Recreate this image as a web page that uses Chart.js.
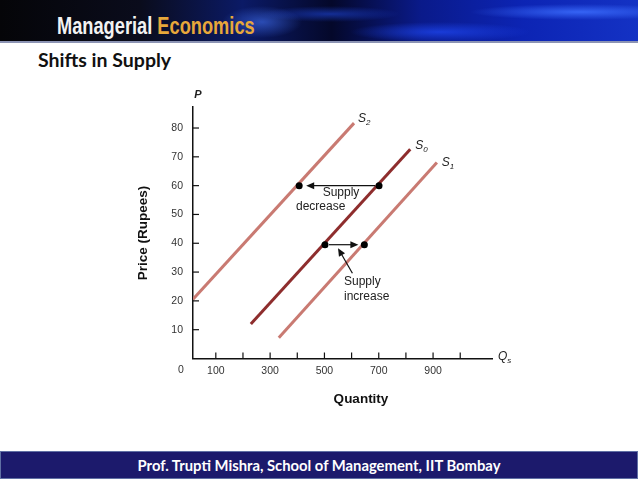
<!DOCTYPE html>
<html>
<head>
<meta charset="utf-8">
<script src="https://cdn.jsdelivr.net/npm/chart.js@4.4.0/dist/chart.umd.min.js"></script>
<style>
  body{margin:0;width:638px;height:479px;overflow:hidden;background:#fff;position:relative;}
  #banner{position:absolute;left:0;top:0;width:638px;height:41px;
    background:
      radial-gradient(ellipse 40px 16px at 262px 22px, rgba(70,120,255,.55), transparent),
      radial-gradient(ellipse 110px 8px at 580px 12px, rgba(60,110,255,.85), transparent),
      radial-gradient(ellipse 90px 10px at 440px 32px, rgba(30,70,240,.75), transparent),
      radial-gradient(ellipse 70px 8px at 330px 14px, rgba(30,70,220,.6), transparent),
      linear-gradient(90deg,#050508 0%,#0a0c1c 22%,#0b1a66 38%,#04082a 52%,#0a1a8a 66%,#0c24b4 82%,#1432c4 100%);
    border-bottom:2px solid #8c94b4;}
  #brand{position:absolute;left:57px;top:12px;font:bold 24px "Liberation Sans",sans-serif;line-height:normal;color:#f2f2f2;
    transform:scaleX(0.76);transform-origin:0 0;white-space:nowrap;}
  #brand span{color:#e8a83a;}
  #title{position:absolute;left:38px;top:48px;font:bold 19.5px Lato,"Open Sans",sans-serif;color:#111;white-space:nowrap;}
  #footer{position:absolute;left:0;top:451px;width:636px;height:26px;background:#1c1a6c;border:1px solid #6070a4;
    color:#fff;font:bold 14.8px Lato,"Open Sans",sans-serif;text-align:center;line-height:26px;white-space:nowrap;}
  #c{position:absolute;left:0;top:0;}
</style>
</head>
<body>
<div id="banner"><div id="brand">Managerial <span>Economics</span></div></div>
<div id="title">Shifts in Supply</div>
<div id="footer">Prof. Trupti Mishra, School of Management, IIT Bombay</div>
<canvas id="c" width="638" height="479"></canvas>
<script>
// Axis ticks
const X_TICKS=[100,200,300,400,500,600,700,800,900,1000];
const X_LABELS=['100','','300','','500','','700','','900',''];
const Y_TICKS=[10,20,30,40,50,60,70,80];

// Supply curves (quantity, price)
const S2_Q=[16,609];
const S2_P=[20.6,81.7];
const S0_Q=[229,816];
const S0_P=[12,72.6];
const S1_Q=[332,914];
const S1_P=[7.2,68];

// Equilibrium dots
const DOT_Q=[407,701,502,647];
const DOT_P=[60,60,39.5,39.5];

const pts=(q,p)=>q.map((v,i)=>({x:v,y:p[i]}));
const FONT='"Liberation Sans", Arial, sans-serif';
const LIGHT='#c97a72';
const DARK='#8e2d2d';

function arrow(ctx,x1,y1,x2,y2){
  const a=Math.atan2(y2-y1,x2-x1);
  ctx.beginPath();
  ctx.moveTo(x1,y1);
  ctx.lineTo(x2-Math.cos(a)*5,y2-Math.sin(a)*5);
  ctx.stroke();
  ctx.beginPath();
  ctx.moveTo(x2,y2);
  ctx.lineTo(x2-Math.cos(a)*8+Math.sin(a)*3.5,y2-Math.sin(a)*8-Math.cos(a)*3.5);
  ctx.lineTo(x2-Math.cos(a)*8-Math.sin(a)*3.5,y2-Math.sin(a)*8+Math.cos(a)*3.5);
  ctx.closePath();
  ctx.fill();
}

function label(ctx,main,sub,x,y){
  ctx.font='italic 12px '+FONT;
  ctx.textAlign='left';ctx.textBaseline='middle';
  ctx.fillText(main,x,y);
  const w=ctx.measureText(main).width;
  ctx.font='italic 8px '+FONT;
  ctx.fillText(sub,x+w,y+4);
}

const overlay={
  id:'overlay',
  afterDraw(chart){
    const ctx=chart.ctx, xs=chart.scales.x, ys=chart.scales.y, ca=chart.chartArea;
    const X=v=>xs.getPixelForValue(v), Y=v=>ys.getPixelForValue(v);
    ctx.save();
    // inward tick marks
    ctx.strokeStyle='#111';ctx.lineWidth=1.2;
    X_TICKS.forEach(v=>{ctx.beginPath();ctx.moveTo(X(v),ca.bottom);ctx.lineTo(X(v),ca.bottom-6);ctx.stroke();});
    Y_TICKS.forEach(v=>{ctx.beginPath();ctx.moveTo(ca.left,Y(v));ctx.lineTo(ca.left+6,Y(v));ctx.stroke();});
    // arrows
    ctx.strokeStyle='#111';ctx.fillStyle='#111';ctx.lineWidth=1.2;
    arrow(ctx,X(DOT_Q[1])-4,Y(DOT_P[1]),X(DOT_Q[0])+7,Y(DOT_P[0]));
    arrow(ctx,X(DOT_Q[2])+4,Y(DOT_P[2]),X(DOT_Q[3])-6,Y(DOT_P[3]));
    arrow(ctx,X(603),Y(29.6),X(550),Y(38.3));
    // text annotations
    ctx.fillStyle='#222';ctx.font='12px '+FONT;ctx.textBaseline='middle';
    ctx.textAlign='center';
    ctx.fillText('Supply',X(561),Y(57.5));
    ctx.fillText('decrease',X(486),Y(52.6));
    ctx.textAlign='left';
    ctx.fillText('Supply',X(572),Y(26.6));
    ctx.fillText('increase',X(572),Y(21.5));
    // curve labels
    ctx.fillStyle='#222';
    label(ctx,'S','2',X(S2_Q[1])+4,Y(S2_P[1])-4);
    label(ctx,'S','0',X(S0_Q[1])+5,Y(S0_P[1])-4);
    label(ctx,'S','1',X(S1_Q[1])+5,Y(S1_P[1]));
    label(ctx,'Q','s',ca.right+6,ca.bottom-2);
    ctx.font='bold italic 11px '+FONT;ctx.textAlign='center';
    ctx.fillText('P',ca.left+5,ca.top-12);
    // origin label
    ctx.font='10.5px '+FONT;ctx.fillStyle='#333';
    ctx.fillText('0',ca.left-12,ca.bottom+11.5);
    // axis titles
    ctx.fillStyle='#111';ctx.font='bold 13.5px '+FONT;
    ctx.fillText('Quantity',ca.left+168,ca.bottom+41);
    ctx.translate(143,233);ctx.rotate(-Math.PI/2);
    ctx.fillText('Price (Rupees)',0,0);
    ctx.restore();
  }
};

new Chart(document.getElementById('c'),{
  type:'scatter',
  data:{datasets:[
    {label:'dots',data:pts(DOT_Q,DOT_P),pointRadius:3.5,pointBackgroundColor:'#000',pointBorderWidth:0,order:0},
    {label:'S2',data:pts(S2_Q,S2_P),showLine:true,borderColor:LIGHT,borderWidth:3,pointRadius:0,order:1},
    {label:'S0',data:pts(S0_Q,S0_P),showLine:true,borderColor:DARK,borderWidth:3,pointRadius:0,order:1},
    {label:'S1',data:pts(S1_Q,S1_P),showLine:true,borderColor:LIGHT,borderWidth:3,pointRadius:0,order:1}
  ]},
  options:{
    responsive:false,animation:false,devicePixelRatio:1,
    layout:{padding:{left:0,top:106.7,right:146,bottom:80.5}},
    plugins:{legend:{display:false},tooltip:{enabled:false}},
    scales:{
      x:{type:'linear',min:16,max:1117,
        afterBuildTicks:s=>{s.ticks=X_TICKS.map(v=>({value:v}));},
        afterFit:s=>{s.height=40;},
        grid:{display:true,drawOnChartArea:false,drawTicks:false},
        border:{display:true,color:'#111',width:1.5},
        ticks:{autoSkip:false,maxRotation:0,padding:6,color:'#333',font:{family:FONT,size:10.5},
          callback:(v,i)=>X_LABELS[i]}},
      y:{type:'linear',min:0,max:87.4,
        afterBuildTicks:s=>{s.ticks=Y_TICKS.map(v=>({value:v}));},
        afterFit:s=>{s.width=193;},
        grid:{display:true,drawOnChartArea:false,drawTicks:false},
        border:{display:true,color:'#111',width:1.5},
        ticks:{autoSkip:false,padding:10,color:'#333',font:{family:FONT,size:10.5}}}
    }
  },
  plugins:[overlay]
});
</script>
</body>
</html>
